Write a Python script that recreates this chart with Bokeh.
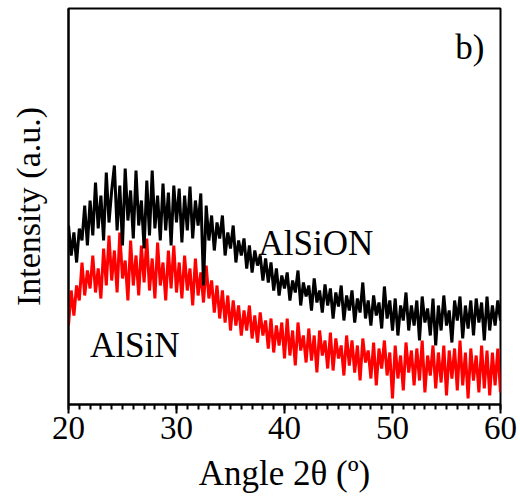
from bokeh.plotting import figure
from bokeh.models import Range1d, SingleIntervalTicker, FixedTicker
from bokeh.core.properties import value
from bokeh.embed import file_html
from bokeh.resources import INLINE

# XRD scan grid (2-theta, degrees), 0.25 deg step from 20 to 60
angle_start = 20.0
angle_step = 0.25
n_points = 161
angle = [angle_start + angle_step * i for i in range(n_points)]

# AlSiON intensity (a.u.)
alsion = [
    179, 149, 172, 142, 176, 164, 199, 159, 204,
    169, 222, 176, 209, 164, 232, 182, 214,
    239, 174, 219, 159, 236, 184, 214, 166,
    234, 179, 204, 156, 224, 169, 234, 176,
    209, 164, 221, 174, 212, 159, 219, 182,
    216, 162, 209, 174, 218, 166, 204, 179,
    211, 119, 199, 164, 189, 154, 182, 166,
    189, 149, 172, 156, 179, 142, 164, 149,
    166, 136, 159, 132, 154, 139, 149, 124,
    146, 122, 142, 114, 136, 109, 129, 116,
    132, 104, 124, 112, 134, 99, 122, 108,
    119, 94, 126, 102, 114, 92, 120, 99,
    116, 86, 112, 98, 119, 84, 109, 94,
    114, 82, 106, 92, 122, 86, 104, 79,
    109, 89, 102, 76, 118, 86, 104, 74,
    106, 69, 99, 84, 112, 74, 99, 79,
    104, 64, 108, 82, 96, 69, 106, 59,
    99, 74, 109, 79, 94, 62, 104, 84,
    108, 66, 99, 76, 104, 69, 106, 82,
    102, 64, 108, 74, 99, 79, 104, 84,
]

# AlSiN intensity (a.u.)
alsin = [
    79, 114, 89, 119, 104, 142, 109, 134, 116,
    149, 112, 136, 106, 156, 119, 169, 124,
    154, 112, 172, 126, 144, 104, 164, 119,
    149, 109, 159, 122, 166, 114, 146, 106,
    162, 119, 142, 104, 154, 116, 159, 112,
    142, 106, 149, 114, 136, 99, 146, 109,
    132, 102, 139, 106, 124, 92, 119, 86,
    114, 82, 109, 74, 104, 79, 99, 69,
    94, 74, 99, 66, 89, 62, 92, 69,
    84, 56, 86, 52, 79, 59, 82, 46,
    86, 49, 74, 39, 82, 54, 69, 42,
    76, 44, 69, 32, 74, 49, 64, 36,
    72, 34, 66, 46, 59, 29, 69, 39,
    64, 32, 59, 24, 66, 42, 54, 26,
    62, 19, 56, 36, 64, 29, 52, 6,
    59, 26, 49, 14, 62, 32, 54, 19,
    56, 24, 64, 12, 49, 29, 59, 16,
    52, 22, 59, 9, 54, 26, 56, 14,
    64, 19, 52, 6, 56, 24, 49, 12,
    59, 16, 54, 9, 52, 19, 56, 12,
]

x_ticks_interval = 10
series_names = ["AlSiON", "AlSiN"]
panel_label = "b)"
x_title = "Angle 2θ (º)"
y_title = "Intensity (a.u.)"

FONT = "Liberation Serif"

p = figure(
    width=520, height=499,
    frame_width=432, frame_height=396,
    output_backend="svg", toolbar_location=None,
    x_range=Range1d(20, 60), y_range=Range1d(0, 396),
    min_border_left=68, min_border_right=20,
    min_border_top=8, min_border_bottom=95,
)
p.background_fill_color = "white"
p.border_fill_color = "white"
p.grid.visible = False
p.outline_line_color = "black"
p.outline_line_width = 2

p.line(angle, alsin, line_color="#ff0000", line_width=3)
p.line(angle, alsion, line_color="#000000", line_width=3)

for txt, xx, yy in [(series_names[0], 37.6, 161), (series_names[1], 22.0, 59), (panel_label, 55.8, 357)]:
    p.text(x=[xx], y=[yy], text=[txt], text_font=value(FONT),
           text_font_size="35px", text_baseline="alphabetic", text_align="left",
           text_color="black")

xa = p.xaxis[0]
xa.ticker = SingleIntervalTicker(interval=x_ticks_interval, num_minor_ticks=10)
xa.axis_label = x_title
xa.axis_label_text_font = FONT
xa.axis_label_text_font_size = "35px"
xa.axis_label_text_font_style = "normal"
xa.axis_label_text_color = "black"
xa.axis_label_standoff = 12
xa.major_label_text_font = FONT
xa.major_label_text_font_size = "33px"
xa.major_label_text_color = "black"
xa.major_label_standoff = 3
xa.axis_line_width = 2
xa.axis_line_color = "black"
xa.major_tick_in = 0
xa.major_tick_out = 9
xa.minor_tick_in = 0
xa.minor_tick_out = 5
xa.major_tick_line_width = 2
xa.minor_tick_line_width = 2
xa.major_tick_line_color = "black"
xa.minor_tick_line_color = "black"

ya = p.yaxis[0]
ya.ticker = FixedTicker(ticks=[])
ya.axis_label = y_title
ya.axis_label_text_font = FONT
ya.axis_label_text_font_size = "34px"
ya.axis_label_text_font_style = "normal"
ya.axis_label_text_color = "black"
ya.axis_label_standoff = 22
ya.major_label_text_font_size = "0px"
ya.major_tick_in = 0
ya.major_tick_out = 0
ya.minor_tick_in = 0
ya.minor_tick_out = 0
ya.axis_line_width = 2
ya.axis_line_color = "black"

open("out.html", "w").write(file_html(p, INLINE))
